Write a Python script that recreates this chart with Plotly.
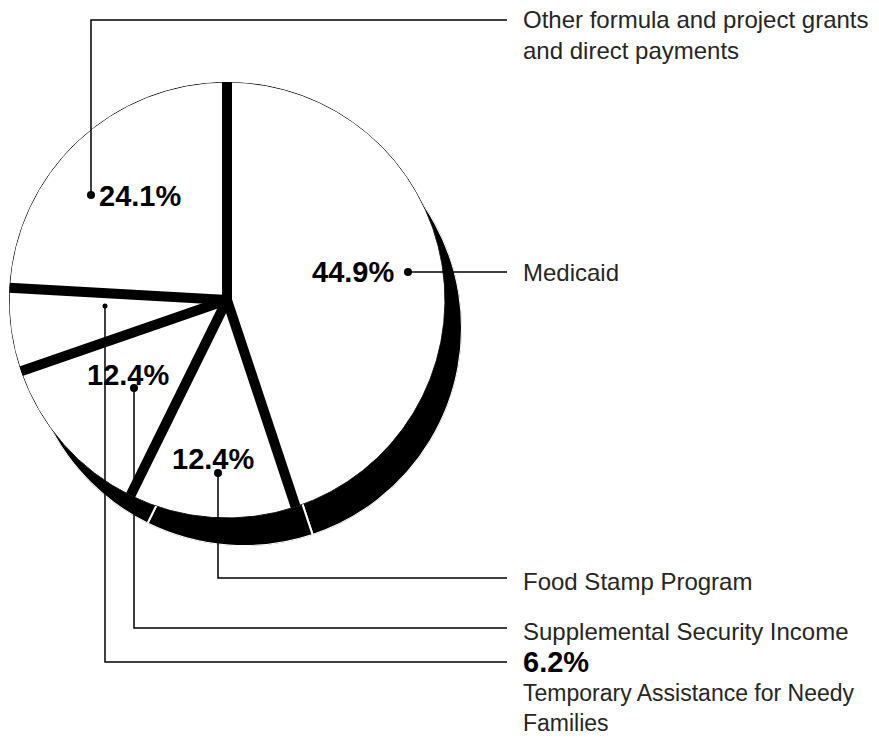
import numpy as np
import plotly.graph_objects as go

# ---------------- data ----------------
categories = ["Medicaid", "Food Stamp Program", "Supplemental Security Income",
              "Temporary Assistance for Needy Families",
              "Other formula and project grants and direct payments"]
shares = [44.9, 12.4, 12.4, 6.2, 24.1]
pct_labels = ["44.9%", "12.4%", "12.4%", "6.2%", "24.1%"]

# ---------------- geometry (layout only) ----------------
W, H = 879, 738
CX, CY, R = 227, 300, 218          # pie centre / radius in px
SHX, SHY = 17, 28                   # shadow offset in px


def px(x):
    return x / W


def py(y):
    return 1 - y / H


total = sum(shares)
widths = [s / total * 360 for s in shares]
starts = list(np.cumsum([0] + widths[:-1]))
mids = [s + w / 2 for s, w in zip(starts, widths)]

fig = go.Figure()

# shadow (3D extrusion look)
fig.add_trace(go.Barpolar(
    r=[1] * len(shares), theta=mids, width=widths, base=0,
    marker=dict(color="black", line=dict(color="white", width=2)),
    subplot="polar", hoverinfo="skip", showlegend=False))

# front pie
fig.add_trace(go.Barpolar(
    r=[1] * len(shares), theta=mids, width=widths, base=0,
    marker=dict(color="white", line=dict(color="black", width=1)),
    subplot="polar2", hoverinfo="skip", showlegend=False, text=categories))

# thick separators between slices
for b in starts:
    fig.add_trace(go.Scatterpolar(
        r=[0, 1], theta=[b, b], mode="lines",
        line=dict(color="black", width=10),
        subplot="polar2", hoverinfo="skip", showlegend=False))


def polar_layout(cx, cy):
    return dict(
        domain=dict(x=[px(cx - R), px(cx + R)], y=[py(cy + R), py(cy - R)]),
        bgcolor="rgba(0,0,0,0)", bargap=0, hole=0,
        radialaxis=dict(visible=False, range=[0, 1]),
        angularaxis=dict(visible=False, rotation=90, direction="clockwise"),
    )


shapes = []
annotations = []

LINE_END = 507
TEXT_X = 522
TANF_Y = 662


def path_shape(points):
    d = "M " + " L ".join(f"{px(x):.5f},{py(y):.5f}" for x, y in points)
    return dict(type="path", path=d, xref="paper", yref="paper",
                line=dict(color="black", width=1.5), layer="above")


def dot(x, y, r=4):
    return dict(type="circle", xref="paper", yref="paper",
                x0=px(x - r), x1=px(x + r), y0=py(y + r), y1=py(y - r),
                fillcolor="black", line=dict(color="black", width=0), layer="above")


# leader lines (label anchor positions, px)
leaders = [
    [(408, 272), (LINE_END, 272)],                       # Medicaid
    [(218, 473), (218, 578), (LINE_END, 578)],           # Food stamp
    [(134, 388), (134, 628), (LINE_END, 628)],           # SSI
    [(105, 306), (105, TANF_Y), (LINE_END, TANF_Y)],     # TANF
    [(91, 195), (91, 20), (LINE_END, 20)],               # Other
]
dot_r = [4, 4, 4, 2.5, 4]
for pts, r in zip(leaders, dot_r):
    shapes.append(path_shape(pts))
    shapes.append(dot(pts[0][0], pts[0][1], r))

BOLD = dict(family="Liberation Sans, Arial, sans-serif", size=29, color="black")
REG = dict(family="Liberation Sans, Arial, sans-serif", size=24, color="#262626")
REG_S = dict(family="Liberation Sans, Arial, sans-serif", size=23, color="#262626")


def ann(text, x, y, font, xanchor="left", yanchor="middle"):
    annotations.append(dict(text=text, x=px(x), y=py(y), xref="paper", yref="paper",
                            xanchor=xanchor, yanchor=yanchor, showarrow=False,
                            font=font, borderpad=0, align="left"))


# percentage labels inside the pie
pct_pos = [(313, 272), (173, 459), (88, 375), None, (100, 196)]
for pos, t in zip(pct_pos, pct_labels):
    if pos is None:
        continue
    ann(f"<b>{t}</b>", pos[0] - 2, pos[1], BOLD)

# category labels
ann("Other formula and project grants<br>and direct payments", TEXT_X, 35, REG)
ann("Medicaid", TEXT_X, 272, REG)
ann("Food Stamp Program", TEXT_X, 581, REG)
ann("Supplemental Security Income", TEXT_X, 631, REG)
ann(f"<b>{pct_labels[3]}</b>", TEXT_X, TANF_Y, BOLD)
ann("Temporary Assistance for Needy<br>Families", TEXT_X, 737, REG_S, yanchor="bottom")

fig.update_layout(
    width=W, height=H, autosize=False,
    margin=dict(l=0, r=0, t=0, b=0),
    paper_bgcolor="white", plot_bgcolor="white",
    polar=polar_layout(CX + SHX, CY + SHY),
    polar2=polar_layout(CX, CY),
    shapes=shapes, annotations=annotations,
    showlegend=False,
)

fig.write_html("out.html", config={"displayModeBar": False},
               post_script="document.body.style.margin='0';document.body.style.overflow='hidden';")
